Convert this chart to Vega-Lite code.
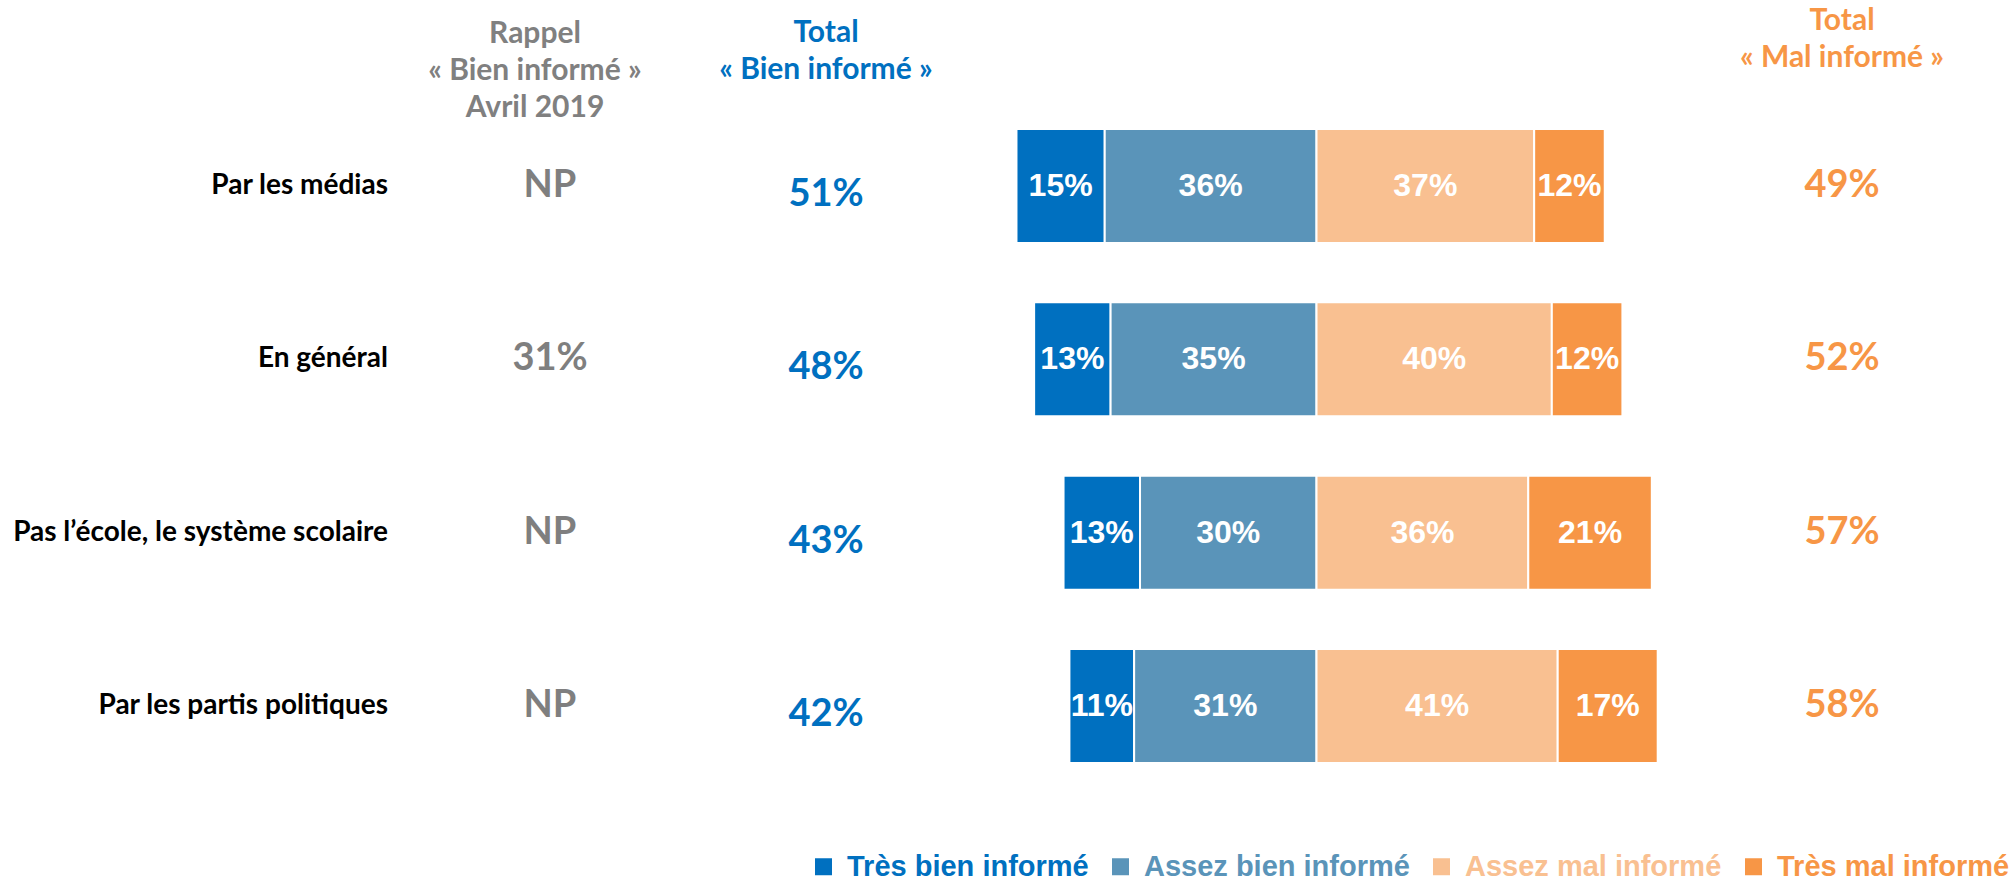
{
  "$schema": "https://vega.github.io/schema/vega-lite/v6.json",
  "background": "white",
  "padding": {"left": 0, "top": 6, "right": 0, "bottom": 0},
  "spacing": 0,
  "bounds": "flush",
  "config": {"view": {"stroke": null}, "font": "Lato"},
  "datasets": {
    "rows": [
      {"question": "Par les médias", "rappel": "NP", "bien": 0.51, "mal": 0.49},
      {"question": "En général", "rappel": "31%", "bien": 0.48, "mal": 0.52},
      {"question": "Pas l’école, le système scolaire", "rappel": "NP", "bien": 0.43, "mal": 0.57},
      {"question": "Par les partis politiques", "rappel": "NP", "bien": 0.42, "mal": 0.58}
    ],
    "segments": [
      {"question": "Par les médias", "category": "Très bien informé", "side": "bien", "pct": 0.15},
      {"question": "Par les médias", "category": "Assez bien informé", "side": "bien", "pct": 0.36},
      {"question": "Par les médias", "category": "Assez mal informé", "side": "mal", "pct": 0.37},
      {"question": "Par les médias", "category": "Très mal informé", "side": "mal", "pct": 0.12},
      {"question": "En général", "category": "Très bien informé", "side": "bien", "pct": 0.13},
      {"question": "En général", "category": "Assez bien informé", "side": "bien", "pct": 0.35},
      {"question": "En général", "category": "Assez mal informé", "side": "mal", "pct": 0.40},
      {"question": "En général", "category": "Très mal informé", "side": "mal", "pct": 0.12},
      {"question": "Pas l’école, le système scolaire", "category": "Très bien informé", "side": "bien", "pct": 0.13},
      {"question": "Pas l’école, le système scolaire", "category": "Assez bien informé", "side": "bien", "pct": 0.30},
      {"question": "Pas l’école, le système scolaire", "category": "Assez mal informé", "side": "mal", "pct": 0.36},
      {"question": "Pas l’école, le système scolaire", "category": "Très mal informé", "side": "mal", "pct": 0.21},
      {"question": "Par les partis politiques", "category": "Très bien informé", "side": "bien", "pct": 0.11},
      {"question": "Par les partis politiques", "category": "Assez bien informé", "side": "bien", "pct": 0.31},
      {"question": "Par les partis politiques", "category": "Assez mal informé", "side": "mal", "pct": 0.41},
      {"question": "Par les partis politiques", "category": "Très mal informé", "side": "mal", "pct": 0.17}
    ]
  },
  "hconcat": [
    {
      "width": 388,
      "height": 634,
      "data": {"name": "rows"},
      "mark": {"type": "text", "align": "right", "baseline": "middle", "font": "Lato", "fontSize": 28, "fontWeight": "bold", "color": "#000000"},
      "encoding": {
        "y": {"field": "question", "type": "nominal", "axis": null, "scale": {"type": "band", "domain": ["Par les médias", "En général", "Pas l’école, le système scolaire", "Par les partis politiques"], "paddingInner": 0.342, "paddingOuter": 0}},
        "x": {"value": "width"},
        "text": {"field": "question", "type": "nominal"}
      }
    },
    {
      "width": 324,
      "height": 634,
      "data": {"name": "rows"},
      "title": {"text": ["Rappel", "« Bien informé »", "Avril 2019"], "color": "#808080", "font": "Lato", "fontSize": 30, "fontWeight": "bold", "lineHeight": 37, "anchor": "middle", "offset": 6, "dx": -15},
      "mark": {"type": "text", "baseline": "middle", "font": "Lato", "fontSize": 38, "fontWeight": "bold", "color": "#7F7F7F"},
      "encoding": {
        "y": {"field": "question", "type": "nominal", "axis": null, "scale": {"type": "band", "domain": ["Par les médias", "En général", "Pas l’école, le système scolaire", "Par les partis politiques"], "paddingInner": 0.342, "paddingOuter": 0}},
        "text": {"field": "rappel", "type": "nominal"}
      }
    },
    {
      "width": 228,
      "height": 634,
      "data": {"name": "rows"},
      "title": {"text": ["Total", "« Bien informé »"], "color": "#0070C0", "font": "Lato", "fontSize": 30, "fontWeight": "bold", "lineHeight": 37, "anchor": "middle", "offset": 44},
      "mark": {"type": "text", "baseline": "middle", "dy": 9, "font": "Lato", "fontSize": 38, "fontWeight": "bold", "color": "#0070C0"},
      "encoding": {
        "y": {"field": "question", "type": "nominal", "axis": null, "scale": {"type": "band", "domain": ["Par les médias", "En général", "Pas l’école, le système scolaire", "Par les partis politiques"], "paddingInner": 0.342, "paddingOuter": 0}},
        "text": {"field": "bien", "type": "quantitative", "format": ".0%"}
      }
    },
    {
      "width": 753,
      "height": 634,
      "data": {"name": "segments"},
      "transform": [
        {"calculate": "datum.side === 'bien' ? -datum.pct : datum.pct", "as": "signed"},
        {"stack": "signed", "groupby": ["question"], "sort": [{"field": "category", "order": "ascending"}], "as": ["x0", "x1"]},
        {"calculate": "(datum.x0 + datum.x1) / 2", "as": "xm"}
      ],
      "encoding": {
        "y": {"field": "question", "type": "nominal", "axis": null, "scale": {"type": "band", "domain": ["Par les médias", "En général", "Pas l’école, le système scolaire", "Par les partis politiques"], "paddingInner": 0.342, "paddingOuter": 0}}
      },
      "layer": [
        {
          "mark": {"type": "bar", "stroke": "#ffffff", "strokeWidth": 2},
          "encoding": {
            "x": {"field": "x0", "type": "quantitative", "axis": null, "scale": {"domain": [-0.64, 0.64], "nice": false, "zero": false}},
            "x2": {"field": "x1"},
            "color": {
              "field": "category",
              "type": "nominal",
              "scale": {"domain": ["Très bien informé", "Assez bien informé", "Assez mal informé", "Très mal informé"], "range": ["#0070C0", "#5A94B9", "#F9C091", "#F79646"]},
              "legend": {
                "title": null,
                "orient": "none",
                "legendX": 809,
                "legendY": 723,
                "direction": "horizontal",
                "symbolType": "square",
                "symbolSize": 289,
                "symbolStrokeWidth": 0,
                "symbolOpacity": 1,
                "labelFont": "Liberation Sans",
                "labelFontSize": 29,
                "labelFontWeight": "bold",
                "labelOffset": 9,
                "columnPadding": 17,
                "labelLimit": 600,
                "padding": 0,
                "labelBaseline": "middle",
                "labelColor": {"expr": "datum.value === 'Très bien informé' ? '#0070C0' : datum.value === 'Assez bien informé' ? '#5A94B9' : datum.value === 'Assez mal informé' ? '#F9C091' : '#F79646'"}
              }
            }
          }
        },
        {
          "mark": {"type": "text", "baseline": "middle", "font": "Liberation Sans", "fontSize": 32, "fontWeight": "bold", "color": "#ffffff"},
          "encoding": {
            "x": {"field": "xm", "type": "quantitative"},
            "text": {"field": "pct", "type": "quantitative", "format": ".0%"}
          }
        }
      ]
    },
    {
      "width": 298,
      "height": 634,
      "data": {"name": "rows"},
      "title": {"text": ["Total", "« Mal informé »"], "color": "#F79646", "font": "Lato", "fontSize": 30, "fontWeight": "bold", "lineHeight": 37, "anchor": "middle", "offset": 56},
      "mark": {"type": "text", "baseline": "middle", "font": "Lato", "fontSize": 38, "fontWeight": "bold", "color": "#F79646"},
      "encoding": {
        "y": {"field": "question", "type": "nominal", "axis": null, "scale": {"type": "band", "domain": ["Par les médias", "En général", "Pas l’école, le système scolaire", "Par les partis politiques"], "paddingInner": 0.342, "paddingOuter": 0}},
        "text": {"field": "mal", "type": "quantitative", "format": ".0%"}
      }
    }
  ]
}
